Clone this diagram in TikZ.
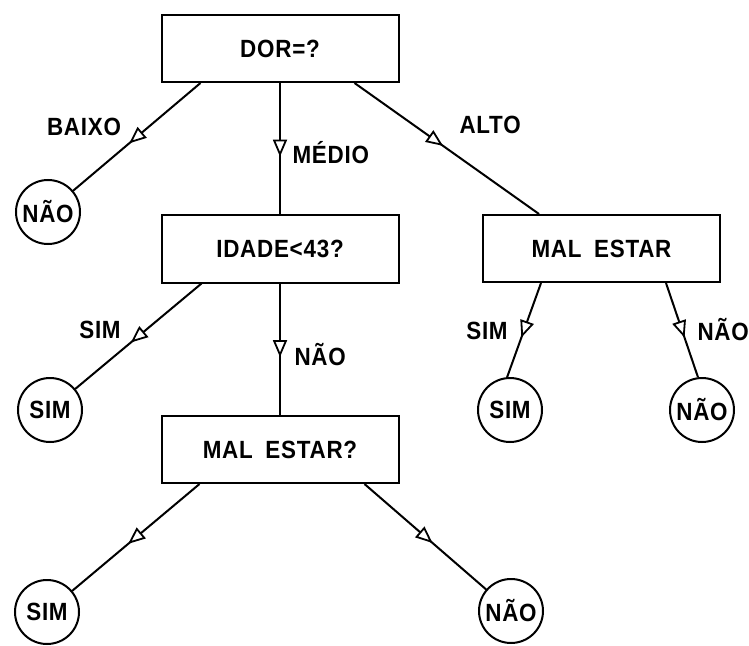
\documentclass[tikz,border=0pt]{standalone}
\usepackage{fontspec}
\setmainfont{Liberation Sans}[FakeStretch=0.9, WordSpace=1.8, LetterSpace=3]
\usetikzlibrary{arrows.meta,decorations.markings}
\begin{document}
\begin{tikzpicture}[x=1bp,y=-1bp,
  every node/.style={font=\fontsize{25}{28}\selectfont\bfseries},
  decision/.style={draw, line width=2bp, minimum width=237bp, minimum height=67bp, inner sep=0pt},
  leaf/.style={draw, circle, line width=2bp, minimum size=64bp, inner sep=0pt},
  branch/.style={line width=2bp, postaction={decorate},
    decoration={markings, mark=at position #1 with
      {\arrow{Triangle[fill=white,length=17bp,width=14bp,line width=1.8bp]}}}},
  branch/.default=0.56]
\useasboundingbox (0,0) rectangle (749,646);

% decision boxes
\node[decision] (dor)   at (280,48.5)  {DOR=?};
\node[decision] (idade) at (280,249)   {IDADE<43?};
\node[decision] (mal2)  at (280,449.5) {MAL ESTAR?};
\node[decision] (mal1)  at (601.5,248.5) {MAL ESTAR};

% leaves
\node[leaf] (n1) at (48,212) {NÃO};
\node[leaf] (s1) at (50,410) {SIM};
\node[leaf] (s2) at (47,612) {SIM};
\node[leaf] (n2) at (511,611) {NÃO};
\node[leaf] (s3) at (510,410) {SIM};
\node[leaf] (n3) at (702,410) {NÃO};

% branches
\draw[branch] ([xshift=40bp]dor.south west) -- (n1);
\draw[branch] (dor.south) -- (idade.north);
\draw[branch=0.48] ([xshift=-45bp]dor.south east) -- ([xshift=57bp]mal1.north west);
\draw[branch] ([xshift=41bp]idade.south west) -- (s1);
\draw[branch] (idade.south) -- (mal2.north);
\draw[branch] ([xshift=39bp]mal2.south west) -- (s2);
\draw[branch] ([xshift=-35bp]mal2.south east) -- (n2);
\draw[branch=0.58] ([xshift=59bp]mal1.south west) -- (s3.95);
\draw[branch=0.58] ([xshift=-55bp]mal1.south east) -- (n3.97);

% branch labels
\node (lbaixo) at (84,127) {BAIXO};
\node[anchor=west] (lmedio) at (289,153) {MÉDIO};
\node[anchor=west] (lalto) at (456,125) {ALTO};
\node (lsim1) at (100,330) {SIM};
\node[anchor=west] (lnao1) at (291,355) {NÃO};
\node (lsim2) at (487,331) {SIM};
\node[anchor=west] (lnao2) at (694,330) {NÃO};
\end{tikzpicture}
\end{document}
